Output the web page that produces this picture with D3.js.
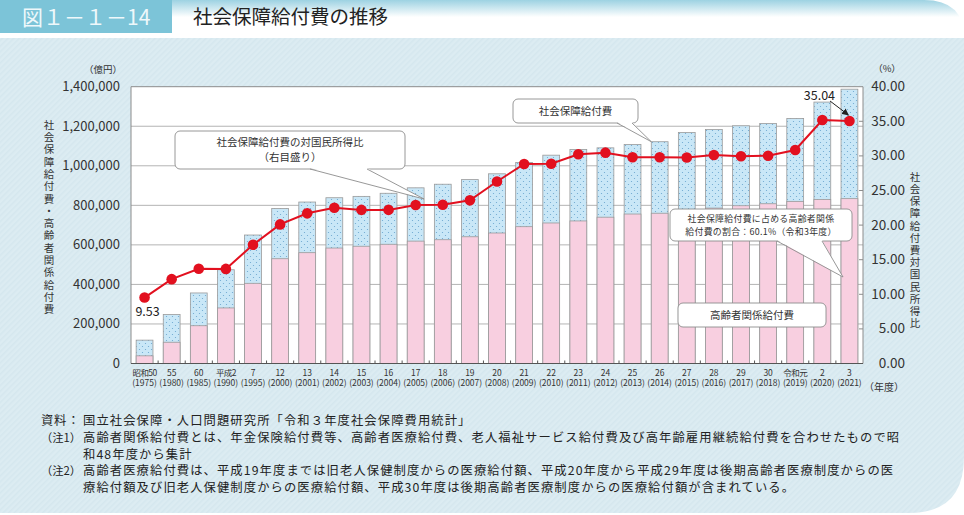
<!DOCTYPE html>
<html>
<head>
<meta charset="utf-8">
<script src="https://cdn.jsdelivr.net/npm/d3@7"></script>
<style>
  body { margin: 0; background: #fff; }
  svg { display: block; font-family: "Noto Sans CJK JP", "Noto Sans", sans-serif; }
</style>
</head>
<body>
<div id="chart"></div>
<script>
// data
const eraLabels = ["昭和50", "55", "60", "平成2", "7", "12", "13", "14", "15", "16", "17", "18", "19", "20",
  "21", "22", "23", "24", "25", "26", "27", "28", "29", "30", "令和元", "2", "3"];
const yearLabels = ["(1975)", "(1980)", "(1985)", "(1990)", "(1995)", "(2000)", "(2001)", "(2002)", "(2003)",
  "(2004)", "(2005)", "(2006)", "(2007)", "(2008)", "(2009)", "(2010)", "(2011)", "(2012)", "(2013)",
  "(2014)", "(2015)", "(2016)", "(2017)", "(2018)", "(2019)", "(2020)", "(2021)"];
// 社会保障給付費 (億円)
const totalBenefit = [118193, 247736, 356798, 474153, 649842, 783985, 816667, 838402, 845305, 860957,
  888529, 906727, 930106, 959436, 1016947, 1053646, 1082744, 1090778, 1107796, 1121734, 1168144,
  1183150, 1202443, 1213987, 1239241, 1322211, 1387433];
// 高齢者関係給付費 (億円)
const elderlyBenefit = [38800, 107500, 191000, 281000, 405600, 530000, 560500, 584000, 593000, 603000,
  619000, 626000, 641000, 660000, 692000, 710700, 721000, 740000, 756000, 760000, 773000, 786000,
  798000, 808000, 820000, 830000, 833800];
// 社会保障給付費の対国民所得比 (%)
const incomeRatio = [9.53, 12.19, 13.70, 13.67, 17.15, 20.10, 21.70, 22.50, 22.20, 22.20, 22.90, 22.95,
  23.58, 26.30, 28.83, 28.87, 30.23, 30.47, 29.80, 29.80, 29.77, 30.13, 29.94, 30.03, 30.85, 35.19, 35.04];
const leftTicks = [0, 200000, 400000, 600000, 800000, 1000000, 1200000, 1400000];
const rightTicks = [0, 5, 10, 15, 20, 25, 30, 35, 40];

const noteLabels = ["資料：", "（注1）", "", "（注2）", ""];
const noteLines = [
  "国立社会保障・人口問題研究所「令和３年度社会保障費用統計」",
  "高齢者関係給付費とは、年金保険給付費等、高齢者医療給付費、老人福祉サービス給付費及び高年齢雇用継続給付費を合わせたもので昭",
  "和48年度から集計",
  "高齢者医療給付費は、平成19年度までは旧老人保健制度からの医療給付額、平成20年度から平成29年度は後期高齢者医療制度からの医",
  "療給付額及び旧老人保健制度からの医療給付額、平成30年度は後期高齢者医療制度からの医療給付額が含まれている。"
];
const noteY = [420, 437, 454, 470.5, 487.5];

const width = 964, height = 515;
const margin = { left: 131, right: 863, top: 86.7, bottom: 363.5 };

const svg = d3.select("#chart").append("svg")
  .attr("width", width)
  .attr("height", height);

const defs = svg.append("defs");

let grad = defs.append("linearGradient").attr("id", "topband")
  .attr("x1", 0).attr("y1", 0).attr("x2", 0).attr("y2", 1);
grad.append("stop").attr("offset", "0%").attr("stop-color", "#9dd2e2");
grad.append("stop").attr("offset", "45%").attr("stop-color", "#ffffff");
grad.append("stop").attr("offset", "100%").attr("stop-color", "#ffffff");

let stripes = defs.append("pattern").attr("id", "stripes")
  .attr("width", 4).attr("height", 4)
  .attr("patternUnits", "userSpaceOnUse")
  .attr("patternTransform", "rotate(45)");
stripes.append("rect").attr("width", 4).attr("height", 4).attr("fill", "#dcecf2");
stripes.append("rect").attr("width", 1.5).attr("height", 4).attr("fill", "#d5e7ee");

let dots = defs.append("pattern").attr("id", "dots")
  .attr("width", 6).attr("height", 6)
  .attr("patternUnits", "userSpaceOnUse");
dots.append("rect").attr("width", 6).attr("height", 6).attr("fill", "#c9e7f7");
dots.append("circle").attr("cx", 1.5).attr("cy", 1.5).attr("r", 0.6).attr("fill", "#6aa6cf");
dots.append("circle").attr("cx", 4.5).attr("cy", 4.5).attr("r", 0.6).attr("fill", "#6aa6cf");

defs.append("marker").attr("id", "arrow")
  .attr("viewBox", "0 0 10 10").attr("refX", 9).attr("refY", 5)
  .attr("markerWidth", 7).attr("markerHeight", 7).attr("orient", "auto")
  .append("path").attr("d", "M0,0 L10,5 L0,10 z").attr("fill", "#222");

// header band + panel
svg.append("path")
  .attr("d", `M0,0 H${width - 40} Q${width},0 ${width},38 H0 Z`)
  .attr("fill", "url(#topband)");
svg.append("path")
  .attr("d", `M0,38 H${width} V${height - 58} Q${width},${height - 2} ${width - 55},${height - 2} H0 Z`)
  .attr("fill", "url(#stripes)");

svg.append("rect").attr("x", 0).attr("y", 0).attr("width", 172).attr("height", 33).attr("fill", "#7cc4d8");
svg.append("text").attr("x", 22).attr("y", 25)
  .attr("font-size", 21).attr("fill", "#eef8fb")
  .text("図１－１－14");
svg.append("text").attr("x", 193).attr("y", 24)
  .attr("font-size", 19.5).attr("fill", "#222")
  .text("社会保障給付費の推移");

// scales
const x = d3.scaleBand().domain(d3.range(eraLabels.length))
  .range([margin.left, margin.right]).paddingInner(0.38).paddingOuter(0.19);
const yLeft = d3.scaleLinear().domain([0, 1400000]).range([margin.bottom, margin.top]);
const yRight = d3.scaleLinear().domain([0, 40]).range([margin.bottom, margin.top]);

// plot background
svg.append("rect")
  .attr("x", margin.left).attr("y", margin.top)
  .attr("width", margin.right - margin.left).attr("height", margin.bottom - margin.top)
  .attr("fill", "#fff");

// gridlines
svg.append("g").selectAll("line").data(leftTicks.slice(1, -1)).join("line")
  .attr("x1", margin.left).attr("x2", margin.right)
  .attr("y1", d => yLeft(d)).attr("y2", d => yLeft(d))
  .attr("stroke", "#b4b4b4").attr("stroke-width", 1);

// bars
const bars = svg.append("g");
bars.selectAll("rect.total").data(totalBenefit).join("rect")
  .attr("class", "total")
  .attr("x", (d, i) => x(i)).attr("width", x.bandwidth())
  .attr("y", d => yLeft(d)).attr("height", d => yLeft(0) - yLeft(d))
  .attr("fill", "url(#dots)").attr("stroke", "#9a9a9a").attr("stroke-width", 0.8);
bars.selectAll("rect.elderly").data(elderlyBenefit).join("rect")
  .attr("class", "elderly")
  .attr("x", (d, i) => x(i)).attr("width", x.bandwidth())
  .attr("y", d => yLeft(d)).attr("height", d => yLeft(0) - yLeft(d))
  .attr("fill", "#f8cfe0").attr("stroke", "#9a9a9a").attr("stroke-width", 0.8);

// plot frame
svg.append("path")
  .attr("d", `M${margin.left},${margin.bottom} V${margin.top} H${margin.right} V${margin.bottom}`)
  .attr("fill", "none").attr("stroke", "#8c8c8c").attr("stroke-width", 1);
svg.append("line")
  .attr("x1", margin.left).attr("x2", margin.right)
  .attr("y1", margin.bottom).attr("y2", margin.bottom)
  .attr("stroke", "#555").attr("stroke-width", 1.2);

// small ticks at category boundaries
svg.append("g").selectAll("line").data(d3.range(eraLabels.length - 1)).join("line")
  .attr("x1", i => x(i) + x.step() - x.step() * 0.19)
  .attr("x2", i => x(i) + x.step() - x.step() * 0.19)
  .attr("y1", margin.bottom).attr("y2", margin.bottom - 3)
  .attr("stroke", "#555");

// right axis ticks (inward)
svg.append("g").selectAll("line").data(rightTicks.slice(1, -1)).join("line")
  .attr("x1", margin.right - 4).attr("x2", margin.right)
  .attr("y1", d => yRight(d)).attr("y2", d => yRight(d))
  .attr("stroke", "#8c8c8c");

// axis labels
const fmt = d3.format(",");
svg.append("g").selectAll("text").data(leftTicks).join("text")
  .attr("x", 120).attr("y", d => yLeft(d) + 4.5)
  .attr("text-anchor", "end").attr("font-size", 13).attr("fill", "#333")
  .text(d => fmt(d));
svg.append("g").selectAll("text").data(rightTicks).join("text")
  .attr("x", 905).attr("y", d => yRight(d) + 4.5)
  .attr("text-anchor", "end").attr("font-size", 13.5).attr("fill", "#333")
  .text(d => d.toFixed(2));

svg.append("text").attr("x", 122).attr("y", 72.5).attr("text-anchor", "end")
  .attr("font-size", 9.5).attr("fill", "#333").text("（億円）");
svg.append("text").attr("x", 887).attr("y", 72).attr("text-anchor", "middle")
  .attr("font-size", 9.5).attr("fill", "#333").text("（%）");
svg.append("text").attr("x", 884).attr("y", 391).attr("text-anchor", "middle")
  .attr("font-size", 10).attr("fill", "#333").text("（年度）");

// x labels: one text per category, two lines
const xl = svg.append("g").attr("font-size", 8.5).attr("fill", "#333").attr("text-anchor", "middle");
const xt = xl.selectAll("text").data(eraLabels).join("text")
  .attr("y", 375.5);
xt.append("tspan")
  .attr("x", (d, i) => x(i) + x.bandwidth() / 2)
  .attr("letter-spacing", d => d.length > 2 ? -0.6 : 0)
  .text(d => d);
xt.append("tspan")
  .attr("x", (d, i) => x(i) + x.bandwidth() / 2)
  .attr("dy", 10.5)
  .text((d, i) => yearLabels[i]);

// vertical axis titles, set in vertical writing mode
function verticalText(str, cx, yTop, spacing, size) {
  svg.append("text")
    .attr("x", cx).attr("y", yTop)
    .attr("font-size", size).attr("fill", "#333")
    .style("writing-mode", "vertical-rl")
    .attr("letter-spacing", spacing)
    .text(str);
}
verticalText("社会保障給付費・高齢者関係給付費", 49, 119.5, 1.8, 10.5);
verticalText("社会保障給付費対国民所得比", 915, 171.5, 1.7, 10.5);

// callouts
function callout(bx, by, bw, bh, lines, size, lh, tail) {
  const g = svg.append("g");
  g.append("rect").attr("x", bx).attr("y", by).attr("width", bw).attr("height", bh)
    .attr("rx", 5).attr("fill", "#fff").attr("stroke", "#8c8c8c").attr("stroke-width", 0.9);
  if (tail) {
    g.append("path")
      .attr("d", `M${tail[0]},${by + bh - 1} L${tail[2]},${tail[3]} L${tail[1]},${by + bh - 1} Z`)
      .attr("fill", "#fff");
    g.append("path")
      .attr("d", `M${tail[0]},${by + bh} L${tail[2]},${tail[3]} L${tail[1]},${by + bh}`)
      .attr("fill", "none").attr("stroke", "#8c8c8c").attr("stroke-width", 0.9);
  }
  const y0 = by + bh / 2 - (lines.length - 1) * lh / 2 + size * 0.36;
  const t = g.append("text").attr("y", y0)
    .attr("text-anchor", "middle").attr("font-size", size).attr("fill", "#333")
    .attr("letter-spacing", size < 10 ? 0.3 : 0);
  t.selectAll("tspan").data(lines).join("tspan")
    .attr("x", bx + bw / 2).attr("dy", (d, i) => i === 0 ? 0 : lh)
    .text(d => d);
}
callout(175, 131, 230, 38, ["社会保障給付費の対国民所得比", "（右目盛り）"], 10.5, 15.3,
  [310, 367, x(10) + x.bandwidth(), yRight(incomeRatio[10]) - 6]);
callout(513, 99, 125, 24, ["社会保障給付費"], 10.5, 0, [617, 632, x(19), yLeft(totalBenefit[19])]);
callout(670, 209, 182, 32, ["社会保障給付費に占める高齢者関係", "給付費の割合：60.1%（令和3年度）"], 8.9, 13,
  [777, 822, x(26) + 2, 277]);
callout(678, 303, 148, 24, ["高齢者関係給付費"], 10.5, 0, null);

// ratio line
const line = d3.line()
  .x((d, i) => x(i) + x.bandwidth() / 2)
  .y(d => yRight(d));
svg.append("path").datum(incomeRatio)
  .attr("d", line).attr("fill", "none").attr("stroke", "#e2101f").attr("stroke-width", 2);
svg.append("g").selectAll("circle").data(incomeRatio).join("circle")
  .attr("cx", (d, i) => x(i) + x.bandwidth() / 2).attr("cy", d => yRight(d))
  .attr("r", 5.3).attr("fill", "#e2101f");

// value labels
const last = incomeRatio.length - 1;
svg.append("text").attr("x", x(0) + x.bandwidth() / 2 + 3).attr("y", yRight(incomeRatio[0]) + 18)
  .attr("text-anchor", "middle").attr("font-size", 12.5).attr("fill", "#222")
  .text(incomeRatio[0].toFixed(2));
svg.append("text").attr("x", x(last) - 6).attr("y", 100)
  .attr("text-anchor", "end").attr("font-size", 12.5).attr("fill", "#222")
  .text(incomeRatio[last].toFixed(2));
svg.append("line")
  .attr("x1", x(last) - 11).attr("y1", 101)
  .attr("x2", x(last) + x.bandwidth() / 2 - 1).attr("y2", yRight(incomeRatio[last]) - 6)
  .attr("stroke", "#222").attr("stroke-width", 1).attr("marker-end", "url(#arrow)");

// notes: one text block, labels + body lines as tspans
const nt = svg.append("text").attr("font-size", 12.3).attr("fill", "#222").attr("y", noteY[0] + 4.6);
noteLines.forEach(function (s, i) {
  const yy = noteY[i] + 4.6;
  if (noteLabels[i]) {
    nt.append("tspan").attr("x", 41).attr("y", yy)
      .attr("font-size", noteLabels[i].length > 3 ? 11.3 : 12.3)
      .attr("letter-spacing", noteLabels[i].length > 3 ? 0 : 0.8)
      .text(noteLabels[i]);
  }
  nt.append("tspan").attr("x", 83).attr("y", yy)
    .attr("letter-spacing", 1.1)
    .text(s);
});
</script>
</body>
</html>
